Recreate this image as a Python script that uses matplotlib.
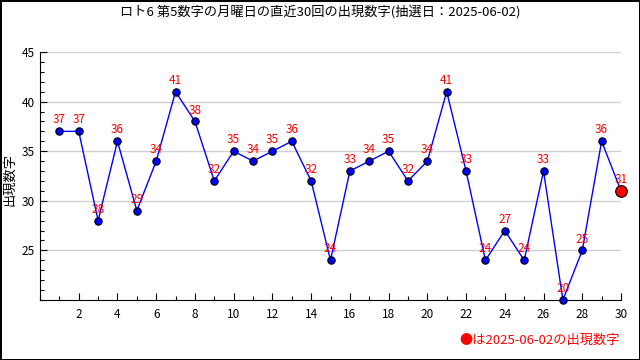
import matplotlib
matplotlib.use("Agg")
import matplotlib.pyplot as plt
from matplotlib.ticker import MultipleLocator

plt.rcParams['font.family'] = ['Noto Sans CJK JP', 'DejaVu Sans']

draws = list(range(1, 31))
numbers = [37, 37, 28, 36, 29, 34, 41, 38, 32, 35, 34, 35, 36, 32, 24,
           33, 34, 35, 32, 34, 41, 33, 24, 27, 24, 33, 20, 25, 36, 31]
xticks = list(range(2, 31, 2))
yticks = [25, 30, 35, 40, 45]
title = "ロト6 第5数字の月曜日の直近30回の出現数字(抽選日：2025-06-02)"
ylabel = "出現数字"
note = "●は2025-06-02の出現数字"

fig = plt.figure(figsize=(6.4, 3.6), dpi=100)
fig.patch.set_edgecolor('black')
fig.patch.set_linewidth(2)
ax = fig.add_axes([40 / 640, 60 / 360, 581 / 640, 248 / 360])

ax.plot(draws, numbers, color='blue', lw=1, zorder=3)
ax.scatter(draws[:-1], numbers[:-1], s=28, color='blue', edgecolors='black',
           linewidths=0.8, zorder=4, clip_on=False)
ax.scatter(draws[-1:], numbers[-1:], s=70, color='red', edgecolors='black',
           linewidths=0.8, zorder=5, clip_on=False)
for x, y in zip(draws, numbers):
    ax.annotate(str(y), (x, y), xytext=(0, 3.5), textcoords='offset points',
                ha='center', va='bottom', color='red', fontsize=8.5, zorder=6)

ax.set_xlim(0, 30)
ax.set_ylim(20, 45)
ax.set_xticks(xticks)
ax.xaxis.set_minor_locator(MultipleLocator(1))
ax.set_yticks(yticks)
ax.yaxis.set_minor_locator(MultipleLocator(1))
ax.tick_params(which='both', direction='in', labelsize=8.5, width=0.8)
ax.tick_params(which='major', length=5)
ax.tick_params(which='minor', length=3)
ax.tick_params(axis='x', pad=6)
ax.grid(axis='y', color='#d0d0d0', lw=1)
ax.set_axisbelow(True)
for s in ['top', 'right']:
    ax.spines[s].set_visible(False)

fig.text(0.5, 1 - 12 / 360, title, ha='center', va='center', fontsize=9.5)
fig.text(10 / 640, 0.5, ylabel, rotation=90, ha='center', va='center', fontsize=9.5)
fig.text(620 / 640, 1 - 340 / 360, note, ha='right', va='center', color='red', fontsize=9.5)

fig.savefig("out.png", dpi=100)
